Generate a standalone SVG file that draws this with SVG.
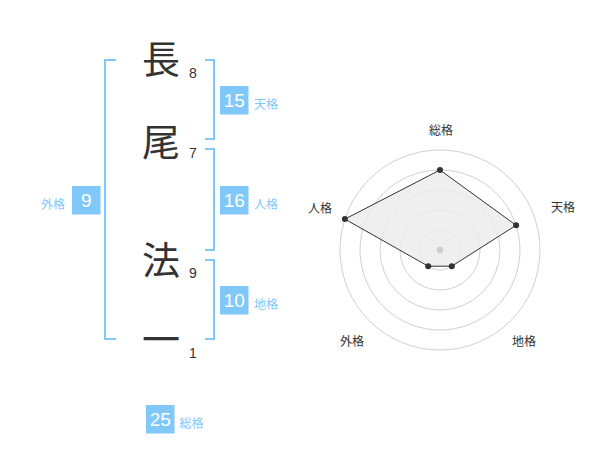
<svg xmlns="http://www.w3.org/2000/svg" width="600" height="470" viewBox="0 0 600 470">
<style>
.ch{font-family:"Noto Sans CJK JP","Noto Sans CJK SC",sans-serif;font-size:38px;fill:#333;text-anchor:middle}
.sn{font-family:"Liberation Sans",Arial,sans-serif;font-size:14px;fill:#333}
.br{fill:none;stroke:#80c8fa;stroke-width:2}
.bx{fill:#80c8fa}
.bn{font-family:"Liberation Sans",Arial,sans-serif;font-size:19px;fill:#fff;text-anchor:middle}
.lb{font-family:"Noto Sans CJK JP","Noto Sans CJK SC",sans-serif;font-size:12px;fill:#80c8fa}
.ring{fill:none;stroke:#d0d0d0;stroke-width:1}
.rl{font-family:"Noto Sans CJK JP","Noto Sans CJK SC",sans-serif;font-size:12px;fill:#333;text-anchor:middle}
.pt{fill:#333}
</style>
<rect width="600" height="470" fill="#fff"/>
<g id="name">
<text class="ch" x="161" y="73">長</text>
<text class="ch" x="161" y="155.5">尾</text>
<text class="ch" x="161" y="274">法</text>
<text class="ch" x="161" y="353">一</text>
<text class="sn" x="189" y="78.3">8</text>
<text class="sn" x="189" y="157.7">7</text>
<text class="sn" x="189" y="278.3">9</text>
<text class="sn" x="189" y="358.3">1</text>
</g>
<g id="connectors">
<path class="br" d="M116,60 H105 V339 H116"/>
<path class="br" d="M205,60 H214 V139 H205"/>
<path class="br" d="M205,149 H214 V250 H205"/>
<path class="br" d="M205,260 H214 V339 H205"/>
</g>
<g id="tenkaku">
<rect class="bx" x="220" y="86" width="28.5" height="28.5"/>
<text class="bn" x="234.3" y="107.2">15</text>
<text class="lb" x="254" y="109">天格</text>
</g>
<g id="jinkaku">
<rect class="bx" x="220" y="186" width="28.5" height="28.5"/>
<text class="bn" x="234.3" y="207.2">16</text>
<text class="lb" x="254" y="209">人格</text>
</g>
<g id="chikaku">
<rect class="bx" x="220" y="286" width="28.5" height="28.5"/>
<text class="bn" x="234.3" y="307.2">10</text>
<text class="lb" x="254" y="309">地格</text>
</g>
<g id="gaikaku">
<rect class="bx" x="72" y="186" width="28.5" height="28.5"/>
<text class="bn" x="86.3" y="207.2">9</text>
<text class="lb" x="65" y="209" text-anchor="end">外格</text>
</g>
<g id="soukaku">
<rect class="bx" x="146" y="405" width="28.5" height="28.5"/>
<text class="bn" x="160.3" y="426.2">25</text>
<text class="lb" x="179.5" y="428">総格</text>
</g>
<g id="radar">
<circle class="ring" cx="440" cy="250" r="20"/>
<circle class="ring" cx="440" cy="250" r="40"/>
<circle class="ring" cx="440" cy="250" r="60"/>
<circle class="ring" cx="440" cy="250" r="80"/>
<circle class="ring" cx="440" cy="250" r="100"/>
<polygon points="440,170 516.1,225.3 451.8,266.2 428.2,266.2 344.9,219.1" fill="#ebebeb" fill-opacity="0.8" stroke="#333" stroke-width="1"/>
<circle cx="440" cy="250" r="3.3" fill="#ccc"/>
<circle class="pt" cx="440" cy="170" r="3"/>
<circle class="pt" cx="516.1" cy="225.3" r="3"/>
<circle class="pt" cx="451.8" cy="266.2" r="3"/>
<circle class="pt" cx="428.2" cy="266.2" r="3"/>
<circle class="pt" cx="344.9" cy="219.1" r="3"/>
<text class="rl" x="441" y="135">総格</text>
<text class="rl" x="563" y="212">天格</text>
<text class="rl" x="320" y="213">人格</text>
<text class="rl" x="352" y="346">外格</text>
<text class="rl" x="524" y="346">地格</text>
</g>
</svg>
